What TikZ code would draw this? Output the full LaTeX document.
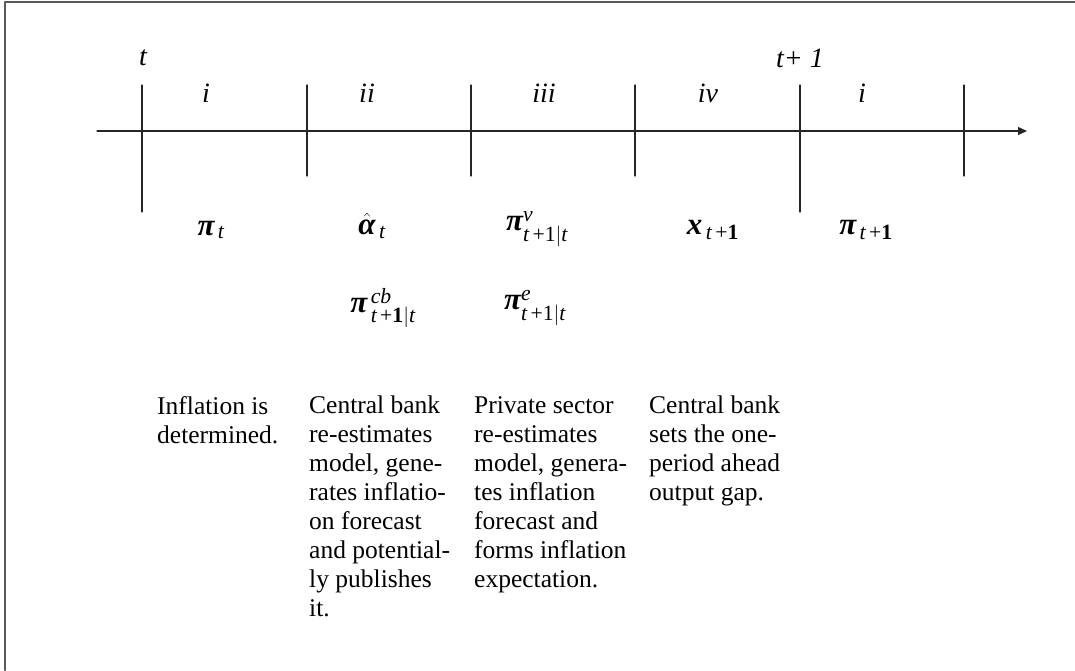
\documentclass[tikz,border=0pt]{standalone}
\usepackage{amsmath}
\usepackage{fontspec}
\setmainfont{Liberation Serif}
\usepackage{tikz}
\usetikzlibrary{arrows}
\usetikzlibrary{arrows.meta}
\newcommand{\bpi}{\text{\bfseries\itshape π}}
\newcommand{\bal}{\text{\bfseries\itshape α}}
\newcommand{\bx}{\text{\bfseries\itshape x}}
\newcommand{\tsub}{\textit{t}}
\tikzset{
  tickline/.style={line width=1.3pt,color=black!85},
  roman/.style={font=\fontsize{28}{30}\selectfont\itshape,inner sep=0pt},
  var/.style={font=\fontsize{31}{33}\selectfont,inner sep=0pt},
  note/.style={anchor=north west,inner sep=0pt,align=left,font=\fontsize{25.5}{29}\selectfont}
}
\begin{document}
\begin{tikzpicture}[line cap=round,line join=round,>={Triangle[length=9pt,width=8pt]},x=1pt,y=-1pt]
\useasboundingbox (0,0) rectangle (1075,670);
% frame
\draw [line width=2pt,color=black!65] (5,670) -- (5,2) -- (1075,2);
% time axis
\coordinate (axL) at (97,131);
\coordinate (axR) at (1027,131);
\draw [->,tickline] (axL) -- (axR);
\foreach \x/\y in {142/212,307/176,471/176,635/176,800/212,964/176}
  \draw [tickline] (\x,85) -- (\x,\y);
% dates and stages
\node [roman] (tnow) at (143,58) {t};
\node [roman] (tnext) at (800,58) {t+ 1};
\node [roman] (ri) at (206,93) {i};
\node [roman] (rii) at (367,93) {ii};
\node [roman] (riii) at (544,93) {iii};
\node [roman] (riv) at (708,93) {iv};
\node [roman] (rnext) at (862,93) {i};
% variables
\node [var] (pit) at (211,230) {$\bpi_{\,\tsub}$};
\node [var] (alpha) at (372,226) {$\hat{\bal}_{\,\tsub}$};
\node [var] (piv) at (537,229) {$\bpi^{\textit{v}}_{\tsub\,\textrm{+1}|\tsub}$};
\node [var] (xnext) at (713,230) {$\bx_{\,\tsub\,\textrm{+}\textbf{1}}$};
\node [var] (pinext) at (866,230) {$\bpi_{\,\tsub\,\textrm{+}\textbf{1}}$};
\node [var] (picb) at (383,308) {$\bpi^{\,\textit{cb}}_{\,\tsub\,\textrm{+}\textbf{1}|\tsub}$};
\node [var] (pie) at (535,308) {$\bpi^{\textit{e}}_{\tsub\,\textrm{+1}|\tsub}$};
% descriptions
\node [note] (n1) at (157,396) {Inflation is\\determined.};
\node [note] (n2) at (309,396) {Central bank\\re-estimates\\model, gene-\\rates inflatio-\\on forecast\\and potential-\\ly publishes\\it.};
\node [note] (n3) at (474,396) {Private sector\\re-estimates\\model, genera-\\tes inflation\\forecast and\\forms inflation\\expectation.};
\node [note] (n4) at (649,396) {Central bank\\sets the one-\\period ahead\\output gap.};
\end{tikzpicture}
\end{document}
